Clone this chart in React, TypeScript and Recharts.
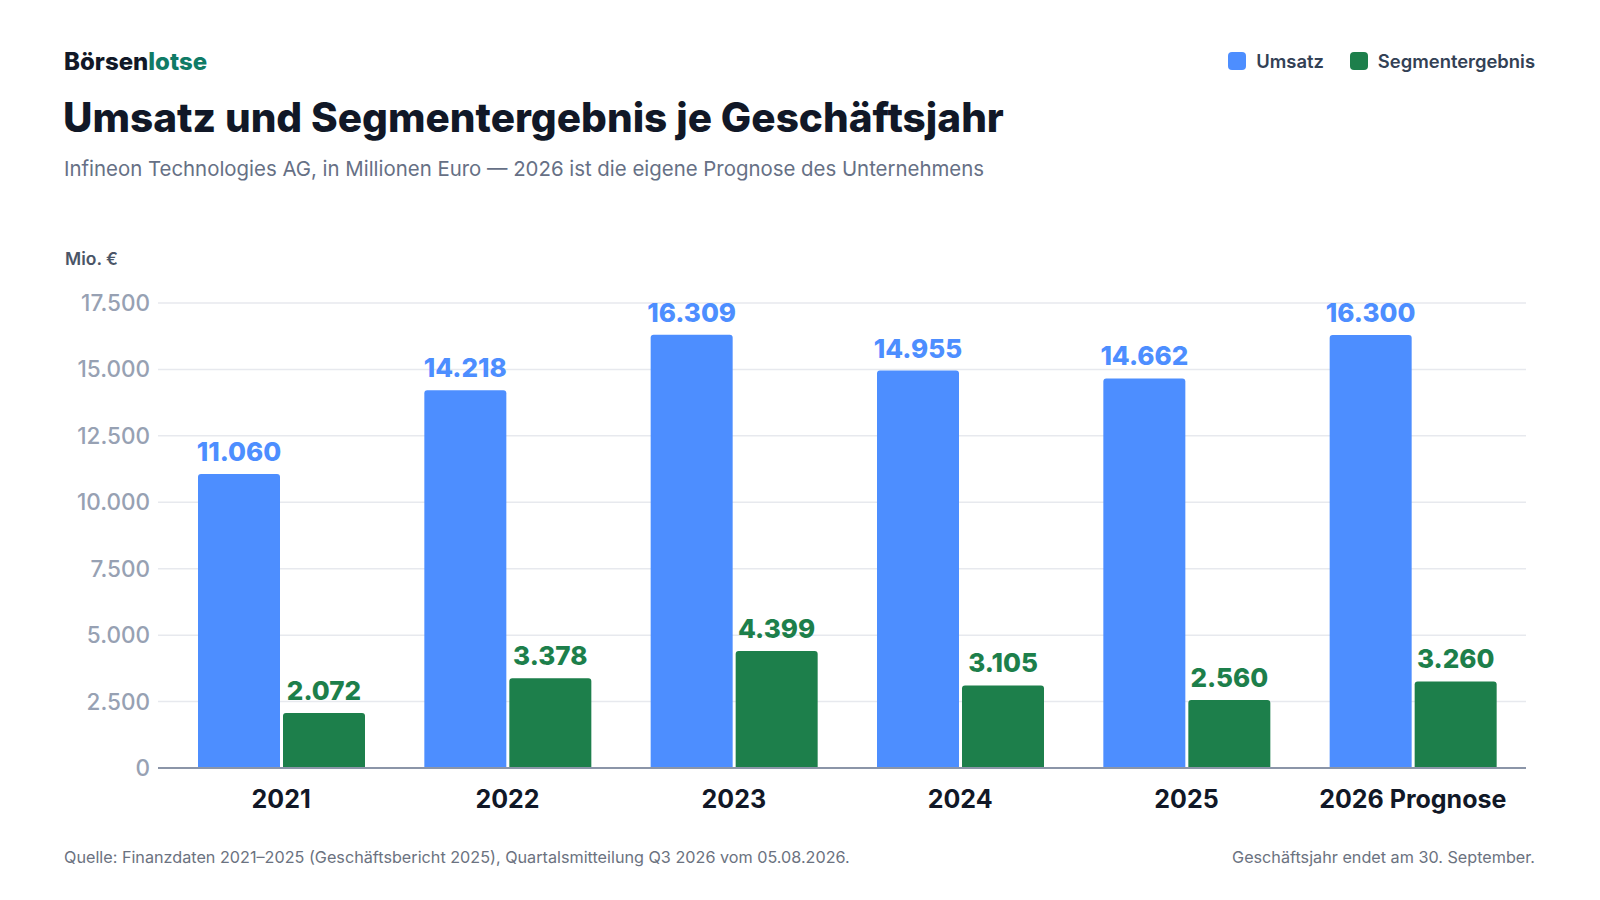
import React from 'react';
import { BarChart, Bar, XAxis, YAxis, CartesianGrid, LabelList } from 'recharts';

const years = ['2021', '2022', '2023', '2024', '2025', '2026 Prognose'];
const umsatz = [11060, 14218, 16309, 14955, 14662, 16300];
const segment = [2072, 3378, 4399, 3105, 2560, 3260];
const yTicks = [0, 2500, 5000, 7500, 10000, 12500, 15000, 17500];

const BLUE = '#4d8eff';
const GREEN = '#1d7f4b';
const FONT = 'Inter, "Noto Sans", sans-serif';

const data = years.map((y, i) => ({ year: y, umsatz: umsatz[i], segment: segment[i] }));

const fmt = (v: number) => String(v).replace(/\B(?=(\d{3})+(?!\d))/g, '.');

const XTick = (props: any) => {
  const { x, y, payload } = props;
  return (
    <text x={x} y={y + 40} textAnchor="middle" fontFamily={FONT} fontSize={25} fontWeight={700} fill="#111827">
      {payload.value}
    </text>
  );
};

export default function App() {
  return (
    <div style={{ position: 'absolute', left: 0, top: 0, width: 1600, height: 900, background: '#fff', fontFamily: FONT, overflow: 'hidden' }}>
      <BarChart
        width={1600}
        height={900}
        data={data}
        margin={{ top: 303, right: 74, bottom: 92, left: 68 }}
        barGap={3}
        style={{ position: 'absolute', left: 0, top: 0 }}
      >
        <CartesianGrid vertical={false} stroke="#e7e9ee" strokeWidth={1.5} />
        <XAxis
          dataKey="year"
          height={40}
          tickLine={false}
          tickSize={0}
          tickMargin={0}
          axisLine={{ stroke: '#8b95a8', strokeWidth: 2 }}
          tick={<XTick />}
          padding={{ left: 10, right: 0 }}
          interval={0}
        />
        <YAxis
          width={90}
          domain={[0, 17500]}
          ticks={yTicks}
          tickFormatter={fmt}
          axisLine={false}
          tickLine={false}
          tickSize={0}
          tickMargin={8}
          tick={{ fill: '#97a1b3', fontSize: 22.5, fontFamily: FONT, fontWeight: 500 }}
          interval={0}
        />
        <Bar dataKey="umsatz" fill={BLUE} barSize={82} radius={[3, 3, 0, 0]} isAnimationActive={false}>
          <LabelList dataKey="umsatz" position="top" offset={13} formatter={(v: any) => fmt(v)} fill={BLUE} fontSize={26} fontWeight={800} fontFamily={FONT} />
        </Bar>
        <Bar dataKey="segment" fill={GREEN} barSize={82} radius={[3, 3, 0, 0]} isAnimationActive={false}>
          <LabelList dataKey="segment" position="top" offset={13} formatter={(v: any) => fmt(v)} fill={GREEN} fontSize={26} fontWeight={800} fontFamily={FONT} />
        </Bar>
      </BarChart>

      <div style={{ position: 'absolute', left: 64, top: 50, fontSize: 24, lineHeight: 1, fontWeight: 800, letterSpacing: 0 }}>
        <span style={{ color: '#111827' }}>Börsen</span>
        <span style={{ color: '#0f7b66' }}>lotse</span>
      </div>
      <div style={{ position: 'absolute', left: 63, top: 98, fontSize: 40.5, lineHeight: 1, fontWeight: 800, color: '#111827', letterSpacing: 0 }}>
        Umsatz und Segmentergebnis je Geschäftsjahr
      </div>
      <div style={{ position: 'absolute', left: 64, top: 159, fontSize: 20.4, lineHeight: 1, fontWeight: 400, color: '#667085' }}>
        Infineon Technologies AG, in Millionen Euro — 2026 ist die eigene Prognose des Unternehmens
      </div>
      <div style={{ position: 'absolute', left: 65, top: 250, fontSize: 17.5, lineHeight: 1, fontWeight: 600, color: '#4b5567' }}>
        Mio. €
      </div>

      <div style={{ position: 'absolute', right: 65, top: 52, display: 'flex', alignItems: 'center', gap: 26, fontSize: 18.4, lineHeight: 1, fontWeight: 600, color: '#334155' }}>
        <div style={{ display: 'flex', alignItems: 'center', gap: 10 }}>
          <span style={{ width: 18, height: 18, borderRadius: 4, background: BLUE, display: 'inline-block' }} />
          <span>Umsatz</span>
        </div>
        <div style={{ display: 'flex', alignItems: 'center', gap: 10 }}>
          <span style={{ width: 18, height: 18, borderRadius: 4, background: GREEN, display: 'inline-block' }} />
          <span>Segmentergebnis</span>
        </div>
      </div>

      <div style={{ position: 'absolute', left: 64, top: 849, fontSize: 16.2, lineHeight: 1, color: '#6b7280' }}>
        Quelle: Finanzdaten 2021–2025 (Geschäftsbericht 2025), Quartalsmitteilung Q3 2026 vom 05.08.2026.
      </div>
      <div style={{ position: 'absolute', right: 65, top: 849, fontSize: 16.2, lineHeight: 1, color: '#6b7280' }}>
        Geschäftsjahr endet am 30. September.
      </div>
    </div>
  );
}
